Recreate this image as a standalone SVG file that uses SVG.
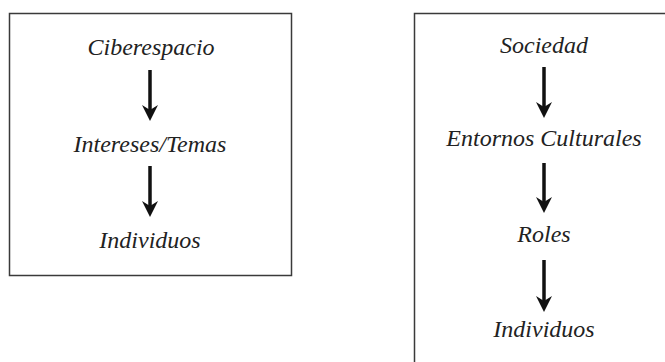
<svg xmlns="http://www.w3.org/2000/svg" width="665" height="362" viewBox="0 0 665 362">
<defs>
<style>
.box{fill:none;stroke:#3a3a3a;stroke-width:1.5}
.t{font-family:"Liberation Serif",serif;font-style:italic;font-size:24px;fill:#222;text-anchor:middle}
.shaft{stroke:#111;stroke-width:3.5}
.head{fill:#111}
</style>
<path id="ah" class="head" d="M-8,-16 L0,0 L8,-16 L0,-11 Z"/>
</defs>
<rect width="665" height="362" fill="#fff"/>
<g id="box-left"><rect class="box" x="9.5" y="13.5" width="282" height="262"/></g>
<g id="box-right"><rect class="box" x="414.5" y="13.5" width="260" height="360"/></g>
<g id="n-ciberespacio"><text class="t" x="151" y="55">Ciberespacio</text></g>
<g id="n-intereses"><text class="t" x="150" y="152">Intereses/Temas</text></g>
<g id="n-individuos1"><text class="t" x="150" y="248">Individuos</text></g>
<g id="n-sociedad"><text class="t" x="544" y="53">Sociedad</text></g>
<g id="n-entornos"><text class="t" x="544" y="146">Entornos Culturales</text></g>
<g id="n-roles"><text class="t" x="544" y="242">Roles</text></g>
<g id="n-individuos2"><text class="t" x="544" y="337">Individuos</text></g>
<g id="connectors">
<line class="shaft" x1="150" y1="70" x2="150" y2="110"/><use href="#ah" x="150" y="121"/>
<line class="shaft" x1="150" y1="166" x2="150" y2="206"/><use href="#ah" x="150" y="217"/>
<line class="shaft" x1="544" y1="67" x2="544" y2="107"/><use href="#ah" x="544" y="118"/>
<line class="shaft" x1="544" y1="163" x2="544" y2="202"/><use href="#ah" x="544" y="213"/>
<line class="shaft" x1="544" y1="260" x2="544" y2="301"/><use href="#ah" x="544" y="312"/>
</g>
</svg>
